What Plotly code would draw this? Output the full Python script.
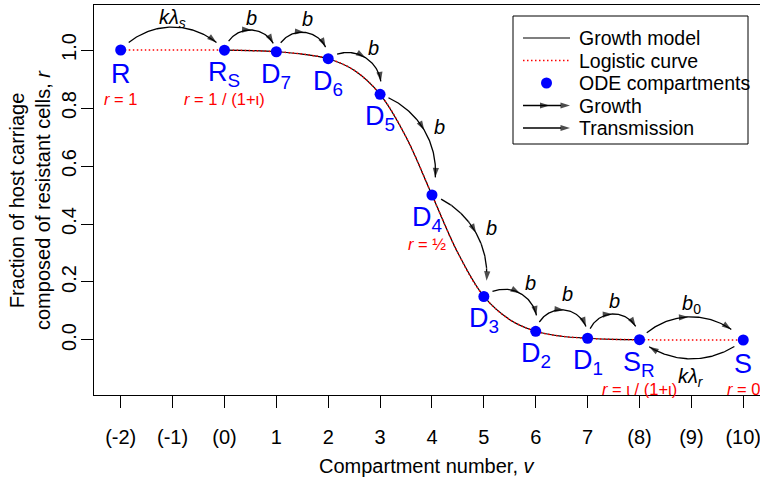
import math
import numpy as np
import plotly.graph_objects as go

# ---------------- data ----------------
curve_v = [-2, -1.5, -1, -0.5, 0, 0.5, 1, 1.5, 2, 2.5, 3, 3.5, 4, 4.5, 5, 5.5, 6, 6.5, 7, 7.5, 8, 8.5, 9, 9.5, 10]
curve_r = [1.0, 1.0, 1.0, 1.0, 0.9995, 0.998, 0.994, 0.986, 0.97, 0.93, 0.847, 0.70, 0.50, 0.30, 0.15, 0.07, 0.03, 0.013, 0.006, 0.002, 0.001, 0.0, 0.0, 0.0, 0.0]
growth_v_range = (0, 8)

comp_v = [-2, 0, 1, 2, 3, 4, 5, 6, 7, 8, 10]
comp_r = [1.0, 0.9995, 0.994, 0.97, 0.847, 0.5, 0.15, 0.03, 0.006, 0.001, 0.0]
comp_names = ["R", "R<sub>S</sub>", "D<sub>7</sub>", "D<sub>6</sub>", "D<sub>5</sub>", "D<sub>4</sub>",
              "D<sub>3</sub>", "D<sub>2</sub>", "D<sub>1</sub>", "S<sub>R</sub>", "S"]
r_labels = {0: "<i>r</i> = 1", 1: "<i>r</i> = 1 / (1+ι)", 5: "<i>r</i> = ½",
            9: "<i>r</i> = ι / (1+ι)", 10: "<i>r</i> = 0"}

x_tickvals = list(range(-2, 11))
x_ticktext = ["(-2)", "(-1)", "(0)", "1", "2", "3", "4", "5", "6", "7", "(8)", "(9)", "(10)"]
y_tickvals = [0.0, 0.2, 0.4, 0.6, 0.8, 1.0]
y_ticktext = ["0.0", "0.2", "0.4", "0.6", "0.8", "1.0"]

# arrows: (from compartment index, to compartment index, label, kind)
arrows = [
    (0, 1, "<i>kλ</i><sub><i>s</i></sub>", "transmission"),
    (1, 2, "<i>b</i>", "growth"),
    (2, 3, "<i>b</i>", "growth"),
    (3, 4, "<i>b</i>", "growth"),
    (4, 5, "<i>b</i>", "growth"),
    (5, 6, "<i>b</i>", "growth"),
    (6, 7, "<i>b</i>", "growth"),
    (7, 8, "<i>b</i>", "growth"),
    (8, 9, "<i>b</i>", "growth"),
    (9, 10, "<i>b</i><sub>0</sub>", "growth"),
    (10, 9, "<i>kλ</i><sub><i>r</i></sub>", "transmission"),
]
legend_labels = ["Growth model", "Logistic curve", "ODE compartments", "Growth", "Transmission"]

# ---------------- styling / geometry ----------------
W, H = 760, 479
ML, MR, MT, MB = 94, 0, 5, 84
PX0, PX1, PY0, PY1 = ML, W - MR, MT, H - MB
XR = (-2.5147, 10.323)
YR = (-0.1897, 1.1552)
FONT = "Liberation Sans, Arial, Helvetica, sans-serif"
BLUE, RED = "#0000FF", "#FF0000"

# per-arrow style: sagitta(px), start trim, end trim, label distance
arrow_style = [
    (23, 11, 11, 9),
    (21, 10, 9, 12),
    (23, 10, 12, 14),
    (22, 10, 13, 13),
    (23, 9, 18, 15),
    (22, 10, 16, 16),
    (23, 10, 16, 14),
    (25, 10, 12, 16),
    (25, 10, 14, 13),
    (23, 10, 16, 12),
    (19, 11, 12, 19),
]


def to_px(v, r):
    X = PX0 + (v - XR[0]) / (XR[1] - XR[0]) * (PX1 - PX0)
    Y = PY0 + (YR[1] - r) / (YR[1] - YR[0]) * (PY1 - PY0)
    return X, Y


def to_data(X, Y):
    v = XR[0] + (np.asarray(X) - PX0) / (PX1 - PX0) * (XR[1] - XR[0])
    r = YR[1] - (np.asarray(Y) - PY0) / (PY1 - PY0) * (YR[1] - YR[0])
    return v, r


def px2paper(X, Y):
    return (X - PX0) / (PX1 - PX0), (PY1 - Y) / (PY1 - PY0)


def arc(A, B, sag, t0, t1, n=81):
    ax, ay = A
    bx, by = B
    dx, dy = bx - ax, by - ay
    c = math.hypot(dx, dy)
    pxv, pyv = dy / c, -dx / c
    R = (c * c / 4 + sag * sag) / (2 * sag)
    mx, my = (ax + bx) / 2, (ay + by) / 2
    cx, cy = mx - pxv * (R - sag), my - pyv * (R - sag)
    thA = math.atan2(ay - cy, ax - cx)
    phi = 4 * math.atan(2 * sag / c)
    apx, apy = mx + pxv * sag, my + pyv * sag
    thP = math.atan2(apy - cy, apx - cx)

    def ad(a, b):
        return (a - b + math.pi) % (2 * math.pi) - math.pi
    s = 1 if abs(ad(thA + phi / 2, thP)) < abs(ad(thA - phi / 2, thP)) else -1
    ts = np.linspace(thA + s * t0 / R, thA + s * (phi - t1 / R), n)
    return cx + R * np.cos(ts), cy + R * np.sin(ts), (apx, apy), (pxv, pyv)


fig = go.Figure()

# logistic (red dotted) and growth model (black)
gv = [v for v in curve_v if growth_v_range[0] <= v <= growth_v_range[1]]
gr = [r for v, r in zip(curve_v, curve_r) if growth_v_range[0] <= v <= growth_v_range[1]]
fig.add_trace(go.Scatter(x=gv, y=gr, mode="lines", line=dict(color="black", width=1.2, shape="spline"),
                         hoverinfo="skip", showlegend=False))
fig.add_trace(go.Scatter(x=curve_v, y=curve_r, mode="lines",
                         line=dict(color=RED, width=1.5, dash="1.5px,2.5px", shape="spline"),
                         hoverinfo="skip", showlegend=False))

annotations = []

# arrows
for (i, j, lab, kind), (sag, t0, t1, ld) in zip(arrows, arrow_style):
    A = to_px(comp_v[i], comp_r[i])
    B = to_px(comp_v[j], comp_r[j])
    xs, ys, apex, perp = arc(A, B, sag, t0, t1)
    n = len(xs)
    sizes = [0] * n
    sizes[-1] = 10
    if kind == "growth":
        sizes[n // 2] = 10
    vv, rr = to_data(xs, ys)
    fig.add_trace(go.Scatter(x=vv, y=rr, mode="lines+markers",
                             line=dict(color="black", width=1.3),
                             marker=dict(symbol="arrow", size=sizes, color="black", angleref="previous",
                                         line=dict(width=0)),
                             hoverinfo="skip", showlegend=False))
    lx, ly = apex[0] + perp[0] * ld, apex[1] + perp[1] * ld
    lv, lr = to_data(lx, ly)
    annotations.append(dict(x=float(lv), y=float(lr), xref="x", yref="y", text=lab, showarrow=False,
                            font=dict(family=FONT, size=20, color="black"), xanchor="center", yanchor="middle"))

# compartments
fig.add_trace(go.Scatter(x=comp_v, y=comp_r, mode="markers", marker=dict(color=BLUE, size=11),
                         hoverinfo="skip", showlegend=False))
for k, (v, r, nm) in enumerate(zip(comp_v, comp_r, comp_names)):
    xs = -5 if k == 5 else 0
    annotations.append(dict(x=v, y=r, xref="x", yref="y", text=nm, showarrow=False, xshift=xs, yshift=-24,
                            font=dict(family=FONT, size=27, color=BLUE), xanchor="center", yanchor="middle"))
    if k in r_labels:
        annotations.append(dict(x=v, y=r, xref="x", yref="y", text=r_labels[k], showarrow=False,
                                xshift=xs, yshift=-49,
                                font=dict(family=FONT, size=16.5, color=RED), xanchor="center", yanchor="middle"))

# ---------------- legend (drawn on a pixel overlay axis) ----------------
LBOX = (513, 16, 748, 144)
rows = [38, 60.5, 83, 105.5, 128]
lx0, lx1, ltx = 523, 570, 577
fig.add_shape(type="rect", xref="x2", yref="y2", x0=LBOX[0], y0=LBOX[1], x1=LBOX[2], y1=LBOX[3],
              line=dict(color="black", width=1), fillcolor="white", layer="below")
fig.add_trace(go.Scatter(x=[lx0, lx1], y=[rows[0]] * 2, xaxis="x2", yaxis="y2", mode="lines",
                         line=dict(color="black", width=1.2), hoverinfo="skip", showlegend=False))
fig.add_trace(go.Scatter(x=[lx0, lx1], y=[rows[1]] * 2, xaxis="x2", yaxis="y2", mode="lines",
                         line=dict(color=RED, width=1.5, dash="1.5px,2.5px"), hoverinfo="skip", showlegend=False))
fig.add_trace(go.Scatter(x=[(lx0 + lx1) / 2], y=[rows[2]], xaxis="x2", yaxis="y2", mode="markers",
                         marker=dict(color=BLUE, size=11), hoverinfo="skip", showlegend=False))
mid = (lx0 + lx1) / 2
fig.add_trace(go.Scatter(x=[lx0, mid - 1, mid + 3, lx1 - 1, lx1], y=[rows[3]] * 5, xaxis="x2", yaxis="y2",
                         mode="lines+markers", line=dict(color="black", width=1.3),
                         marker=dict(symbol="arrow", size=[0, 0, 10, 0, 10], color="black", angleref="previous",
                                     line=dict(width=0)),
                         hoverinfo="skip", showlegend=False))
fig.add_trace(go.Scatter(x=[lx0, lx1 - 1, lx1], y=[rows[4]] * 3, xaxis="x2", yaxis="y2",
                         mode="lines+markers", line=dict(color="black", width=1.3),
                         marker=dict(symbol="arrow", size=[0, 0, 10], color="black", angleref="previous",
                                     line=dict(width=0)),
                         hoverinfo="skip", showlegend=False))
for yy, lab in zip(rows, legend_labels):
    annotations.append(dict(x=ltx, y=yy, xref="x2", yref="y2", text=lab, showarrow=False,
                            font=dict(family=FONT, size=19.5, color="black"), xanchor="left", yanchor="middle"))

# ---------------- axis titles ----------------
tx, ty = px2paper(427, 466)
annotations.append(dict(x=tx, y=ty, xref="paper", yref="paper", text="Compartment number, <i>v</i>",
                        showarrow=False, font=dict(family=FONT, size=20, color="black"),
                        xanchor="center", yanchor="middle"))
tx, ty = px2paper(30, 200)
annotations.append(dict(x=tx, y=ty, xref="paper", yref="paper",
                        text="Fraction of host carriage<br>composed of resistant cells, <i>r</i>",
                        showarrow=False, textangle=-90, font=dict(family=FONT, size=20, color="black"),
                        xanchor="center", yanchor="middle"))

fig.update_layout(
    width=W, height=H,
    margin=dict(l=ML, r=MR, t=MT, b=MB, pad=0),
    paper_bgcolor="white", plot_bgcolor="white",
    showlegend=False,
    font=dict(family=FONT, size=20, color="black"),
    xaxis=dict(range=list(XR), tickmode="array", tickvals=x_tickvals, ticktext=x_ticktext,
               showgrid=False, zeroline=False, showline=True, mirror=True, linecolor="black", linewidth=1,
               ticks="outside", ticklen=12, tickwidth=1, tickcolor="black", ticklabelstandoff=12,
               ticklabeloverflow="allow",
               tickfont=dict(family=FONT, size=20, color="black")),
    yaxis=dict(range=list(YR), tickmode="array", tickvals=y_tickvals, ticktext=y_ticktext,
               showgrid=False, zeroline=False, showline=True, mirror=True, linecolor="black", linewidth=1,
               ticks="outside", ticklen=12, tickwidth=1, tickcolor="black", tickangle=-90,
               ticklabelstandoff=-3,
               tickfont=dict(family=FONT, size=20, color="black")),
    xaxis2=dict(range=[PX0, PX1], overlaying="x", visible=False, fixedrange=True),
    yaxis2=dict(range=[PY1, PY0], overlaying="y", visible=False, fixedrange=True),
    annotations=annotations,
)

fig.write_html("out.html")
